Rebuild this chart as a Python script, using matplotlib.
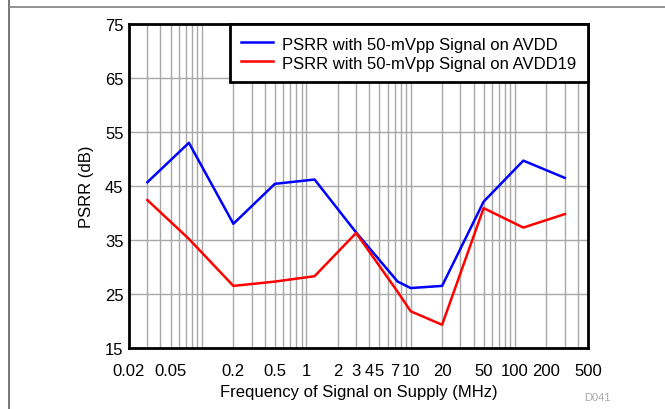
import matplotlib
matplotlib.use("Agg")
import matplotlib.pyplot as plt
from matplotlib.lines import Line2D
from matplotlib.ticker import FixedLocator, FixedFormatter, LogLocator, NullFormatter

plt.rcParams['font.family'] = ['Liberation Sans', 'DejaVu Sans']

# Frequency of signal on supply (MHz)
freq_mhz = [0.03, 0.075, 0.2, 0.5, 1.2, 3, 7.5, 10, 20, 50, 120, 300]
psrr_avdd = [45.7, 53.0, 38.0, 45.4, 46.2, 36.4, 27.3, 26.1, 26.5, 42.1, 49.7, 46.5]
psrr_avdd19 = [42.4, 35.2, 26.5, 27.3, 28.3, 36.3, 25.4, 21.8, 19.3, 40.9, 37.3, 39.8]

labels = ["PSRR with 50-mVpp Signal on AVDD",
          "PSRR with 50-mVpp Signal on AVDD19"]

x_ticks = [0.02, 0.05, 0.2, 0.5, 1, 2, 3, 4, 5, 7, 10, 20, 50, 100, 200, 500]
x_ticklabels = ["0.02", "0.05", "0.2", "0.5", "1", "2", "3", "4", "5", "7",
                "10", "20", "50", "100", "200", "500"]
y_ticks = [15, 25, 35, 45, 55, 65, 75]

fig = plt.figure(figsize=(6.65, 4.10), dpi=100)
ax = fig.add_axes([129 / 665, 1 - 349 / 410, 459 / 665, 324 / 410])

ax.set_xscale('log')
ax.set_xlim(0.02, 500)
ax.set_ylim(15, 75)

# labelled ticks as major, every decade subdivision as minor (grid only)
ax.xaxis.set_major_locator(FixedLocator(x_ticks))
ax.xaxis.set_major_formatter(FixedFormatter(x_ticklabels))
ax.xaxis.set_minor_locator(LogLocator(base=10, subs=range(1, 10), numticks=100))
ax.xaxis.set_minor_formatter(NullFormatter())
ax.set_yticks(y_ticks)
ax.grid(True, which='both', axis='x', color='#a8a8a8', linewidth=1.0)
ax.grid(True, which='major', axis='y', color='#a8a8a8', linewidth=1.0)
ax.tick_params(axis='x', which='both', length=0)
ax.tick_params(axis='x', which='major', pad=11, labelsize=12)
ax.tick_params(axis='y', length=0, pad=4, labelsize=12)
for s in ax.spines.values():
    s.set_linewidth(2.0)
    s.set_color('black')
ax.set_axisbelow(True)

ax.plot(freq_mhz, psrr_avdd, color='#0000ff', linewidth=1.8, label=labels[0])
ax.plot(freq_mhz, psrr_avdd19, color='#ff0000', linewidth=1.8, label=labels[1])

ax.set_xlabel("Frequency of Signal on Supply (MHz)", fontsize=12, labelpad=4)
ax.set_ylabel("PSRR (dB)", fontsize=12, labelpad=8)

leg = ax.legend(loc='upper right', bbox_to_anchor=(1.0, 1.0), fontsize=12,
                frameon=True, fancybox=False, borderaxespad=0,
                handlelength=1.9, handleheight=1.0, handletextpad=0.55,
                labelspacing=0.15, borderpad=0.7)
leg.get_frame().set_edgecolor('black')
leg.get_frame().set_linewidth(2.0)
leg.get_frame().set_alpha(1.0)

fig.text(597 / 665, 1 - 398 / 410, "D041", color='#aaaaaa', fontsize=8,
         ha='center', va='center')

# page frame lines
fig.add_artist(Line2D([8.5 / 665, 8.5 / 665], [0, 1], color='#606060',
                      linewidth=1.2, transform=fig.transFigure))
fig.add_artist(Line2D([8.5 / 665, 1], [1 - 7.5 / 410, 1 - 7.5 / 410],
                      color='#808080', linewidth=1.2, transform=fig.transFigure))

fig.savefig("out.png", dpi=100)
